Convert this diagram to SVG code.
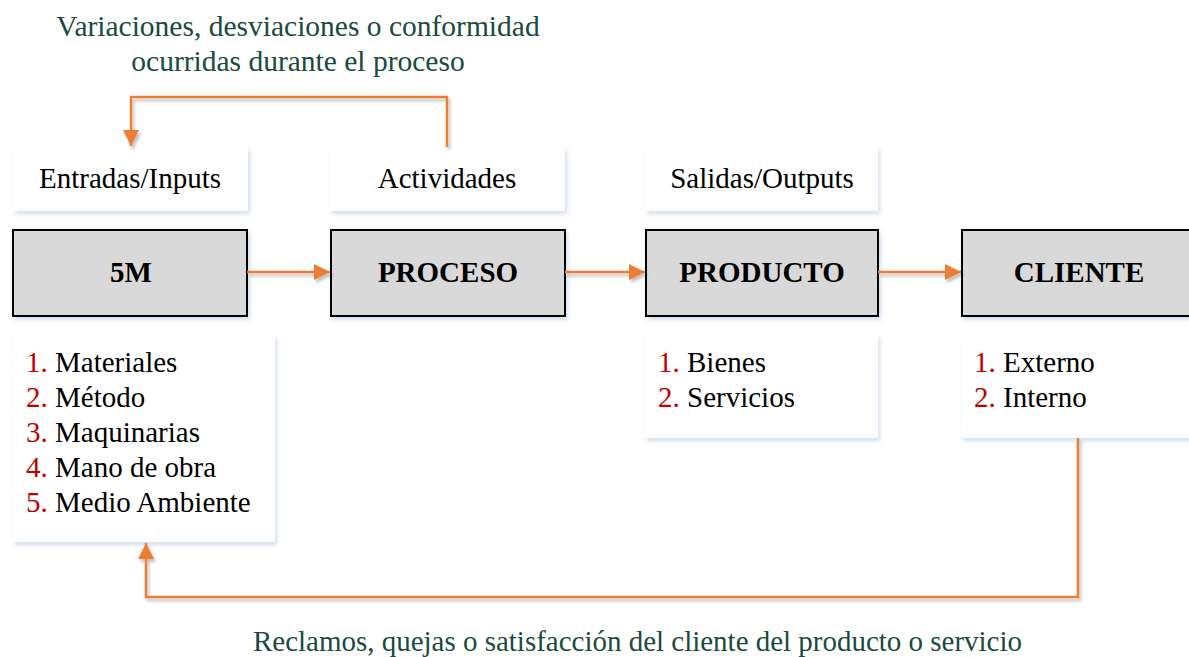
<svg xmlns="http://www.w3.org/2000/svg" width="1189" height="657" viewBox="0 0 1189 657">
<defs>
<style>
text{font-family:"Liberation Serif","Times New Roman",serif;font-size:29px;fill:#000}
.cap{fill:#1b4a3e}
.top{font-size:29.5px}
.num{fill:#c00000}
.b{font-weight:bold;font-size:29px}
.lbl{fill:#fff}
.gray{fill:#d9d9d9;stroke:#000;stroke-width:2}
.con{fill:none;stroke:#ed7d31;stroke-width:2.5}
</style>
<filter id="sh" x="-10%" y="-10%" width="130%" height="140%">
<feDropShadow dx="2" dy="3" stdDeviation="2" flood-color="#b4c8e0" flood-opacity="0.6"/>
</filter>
<filter id="ash" x="-10%" y="-10%" width="130%" height="140%">
<feDropShadow dx="2" dy="3" stdDeviation="1.5" flood-color="#000" flood-opacity="0.25"/>
</filter>
<marker id="ah" viewBox="0 0 16 16" refX="16" refY="8" markerWidth="16" markerHeight="16" markerUnits="userSpaceOnUse" orient="auto">
<path d="M0,0 L16,8 L0,16 Z" fill="#ed7d31"/>
</marker>
</defs>
<rect width="1189" height="657" fill="#fff"/>

<g id="caption-top">
<text class="cap top" x="298" y="36" text-anchor="middle">Variaciones, desviaciones o conformidad</text>
<text class="cap top" x="298" y="71" text-anchor="middle">ocurridas durante el proceso</text>
</g>

<g id="entradas">
<rect class="lbl" x="13" y="147" width="235" height="64" filter="url(#sh)"/>
<text x="130" y="188" text-anchor="middle">Entradas/Inputs</text>
</g>
<g id="actividades">
<rect class="lbl" x="330" y="147" width="235" height="64" filter="url(#sh)"/>
<text x="447" y="188" text-anchor="middle">Actividades</text>
</g>
<g id="salidas">
<rect class="lbl" x="645" y="147" width="233" height="64" filter="url(#sh)"/>
<text x="762" y="188" text-anchor="middle">Salidas/Outputs</text>
</g>

<g id="n5m">
<rect class="gray" x="13" y="230" width="234" height="86" filter="url(#sh)"/>
<text class="b" x="131" y="282" text-anchor="middle">5M</text>
</g>
<g id="proceso">
<rect class="gray" x="331" y="230" width="234" height="86" filter="url(#sh)"/>
<text class="b" x="448" y="282" text-anchor="middle">PROCESO</text>
</g>
<g id="producto">
<rect class="gray" x="646" y="230" width="232" height="86" filter="url(#sh)"/>
<text class="b" x="762" y="282" text-anchor="middle">PRODUCTO</text>
</g>
<g id="cliente">
<rect class="gray" x="962" y="230" width="232" height="86" filter="url(#sh)"/>
<text class="b" x="1079" y="282" text-anchor="middle">CLIENTE</text>
</g>

<g id="list-5m">
<rect class="lbl" x="13" y="335" width="262" height="207" filter="url(#sh)"/>
<text x="26" y="372"><tspan class="num">1.</tspan> Materiales</text>
<text x="26" y="407"><tspan class="num">2.</tspan> Método</text>
<text x="26" y="442"><tspan class="num">3.</tspan> Maquinarias</text>
<text x="26" y="477"><tspan class="num">4.</tspan> Mano de obra</text>
<text x="26" y="512"><tspan class="num">5.</tspan> Medio Ambiente</text>
</g>
<g id="list-producto">
<rect class="lbl" x="645" y="335" width="233" height="103" filter="url(#sh)"/>
<text x="658" y="372"><tspan class="num">1.</tspan> Bienes</text>
<text x="658" y="407"><tspan class="num">2.</tspan> Servicios</text>
</g>
<g id="list-cliente">
<rect class="lbl" x="961" y="335" width="232" height="103" filter="url(#sh)"/>
<text x="974" y="372"><tspan class="num">1.</tspan> Externo</text>
<text x="974" y="407"><tspan class="num">2.</tspan> Interno</text>
</g>

<g id="caption-bottom">
<text class="cap" x="253" y="651" font-size="26" textLength="769" lengthAdjust="spacingAndGlyphs">Reclamos, quejas o satisfacción del cliente del producto o servicio</text>
</g>

<g id="connectors" filter="url(#ash)">
<path class="con" d="M247,272 H330" marker-end="url(#ah)"/>
<path class="con" d="M565,272 H645" marker-end="url(#ah)"/>
<path class="con" d="M878,272 H961" marker-end="url(#ah)"/>
<path class="con" d="M447,147 V97 H131 V146" marker-end="url(#ah)"/>
<path class="con" d="M1078,438 V597 H146 V543" marker-end="url(#ah)"/>
</g>
</svg>
